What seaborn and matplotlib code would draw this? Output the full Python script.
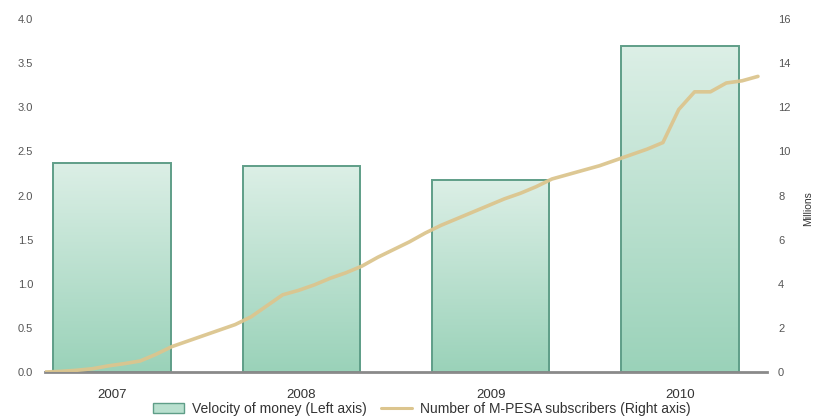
import numpy as np
import pandas as pd
import matplotlib
matplotlib.use("Agg")
import matplotlib.pyplot as plt
import seaborn as sns
from matplotlib.patches import Patch
from matplotlib.lines import Line2D
from matplotlib.colors import to_rgb

# ---------------- data ----------------
years = ["2007", "2008", "2009", "2010"]
velocity = [2.37, 2.33, 2.18, 3.69]          # left axis

# monthly M-PESA subscribers (millions), Mar 2007 .. Dec 2010
months = list(range(46))
subscribers = [0.0, 0.03, 0.08, 0.15, 0.28, 0.38, 0.5, 0.8, 1.15, 1.4,
               1.65, 1.9, 2.15, 2.5, 3.0, 3.5, 3.7, 3.95, 4.25, 4.5,
               4.8, 5.2, 5.55, 5.9, 6.3, 6.65, 6.95, 7.25, 7.55, 7.85,
               8.1, 8.4, 8.75, 8.95, 9.15, 9.35, 9.6, 9.85, 10.1, 10.4,
               11.9, 12.7, 12.7, 13.1, 13.2, 13.4]

left_ticks = [0.0, 0.5, 1.0, 1.5, 2.0, 2.5, 3.0, 3.5, 4.0]
right_ticks = [0, 2, 4, 6, 8, 10, 12, 14, 16]

bar_label = "Velocity of money (Left axis)"
line_label = "Number of M-PESA subscribers (Right axis)"
right_axis_label = "Millions"

# ---------------- style ----------------
sns.set_style("white")
FONT = ["Liberation Sans Narrow", "Liberation Sans", "DejaVu Sans"]
plt.rcParams["font.family"] = FONT

bar_top = "#dcefe6"
bar_bottom = "#9ad2b9"
bar_edge = "#5f9e88"
line_color = "#dcc58e"
tick_color = "#555555"
axis_color = "#8a8a8a"

fig = plt.figure(figsize=(8.13, 4.18), dpi=100)
pos = [0.0554, 0.110, 0.888, 0.8445]
ax = fig.add_axes(pos)

df = pd.DataFrame({"year": years, "velocity": velocity})
sns.barplot(data=df, x="year", y="velocity", ax=ax, width=0.62,
            color=bar_bottom, edgecolor=bar_edge, linewidth=1.4,
            saturation=1)

XLIM = (-0.354, 3.46)
ax.set_xlim(*XLIM)
ax.set_ylim(0, 4.0)

# gradient fill inside each bar
c0 = np.array(to_rgb(bar_bottom))
c1 = np.array(to_rgb(bar_top))
t = np.linspace(0, 1, 256)[:, None, None]
for p in list(ax.patches):
    x0, y0 = p.get_x(), p.get_y()
    w, h = p.get_width(), p.get_height()
    grad = c0 * (1 - t) + c1 * t
    grad = np.repeat(grad, 2, axis=1)
    im = ax.imshow(grad, extent=[x0, x0 + w, y0, y0 + h], origin="lower",
                   aspect="auto", zorder=p.get_zorder() - 0.05,
                   interpolation="bilinear")
    im.set_clip_path(p)
    p.set_facecolor("none")

ax.set_xlim(*XLIM)
ax.set_ylim(0, 4.0)
ax.set_yticks(left_ticks)
ax.set_yticklabels([f"{v:.1f}" for v in left_ticks])
ax.set_xlabel("")
ax.set_ylabel("")
ax.tick_params(axis="both", length=0, colors=tick_color)
ax.tick_params(axis="y", pad=8.5, labelsize=8)
ax.tick_params(axis="x", pad=12, labelsize=9.5)
for lbl in ax.get_xticklabels():
    lbl.set_color("#333333")
for s in ["top", "left", "right"]:
    ax.spines[s].set_visible(False)
ax.spines["bottom"].set_color(axis_color)
ax.spines["bottom"].set_linewidth(2)

# line on an overlay axis with its own (monthly) x scale
ax2 = fig.add_axes(pos, facecolor="none")
sub_df = pd.DataFrame({"month": months, "subs": subscribers})
sns.lineplot(data=sub_df, x="month", y="subs", ax=ax2, color=line_color,
             linewidth=2.6, alpha=0.95)
ax2.set_xlim(0, months[-1] + 0.57)
ax2.set_ylim(0, 16)
ax2.yaxis.tick_right()
ax2.set_yticks(right_ticks)
ax2.set_yticklabels([str(v) for v in right_ticks])
ax2.tick_params(axis="y", length=0, labelsize=8, colors=tick_color, pad=8)
ax2.set_xticks([])
ax2.set_xlabel("")
ax2.set_ylabel("")
for s in ax2.spines.values():
    s.set_visible(False)

fig.text(1.0, 0.50, right_axis_label, rotation=90, ha="right",
         va="center", fontsize=7.5, color="#333333")

handles = [Patch(facecolor="#b9e0cf", edgecolor=bar_edge, linewidth=1.0),
           Line2D([0], [0], color=line_color, linewidth=2.2)]
fig.legend(handles, [bar_label, line_label], loc="center",
           bbox_to_anchor=(0.519, 0.022), ncol=2, frameon=False,
           fontsize=10, handlelength=2.2, handleheight=0.8,
           columnspacing=1.0, handletextpad=0.6, labelcolor="#333333")

fig.savefig("out.png", dpi=100)
